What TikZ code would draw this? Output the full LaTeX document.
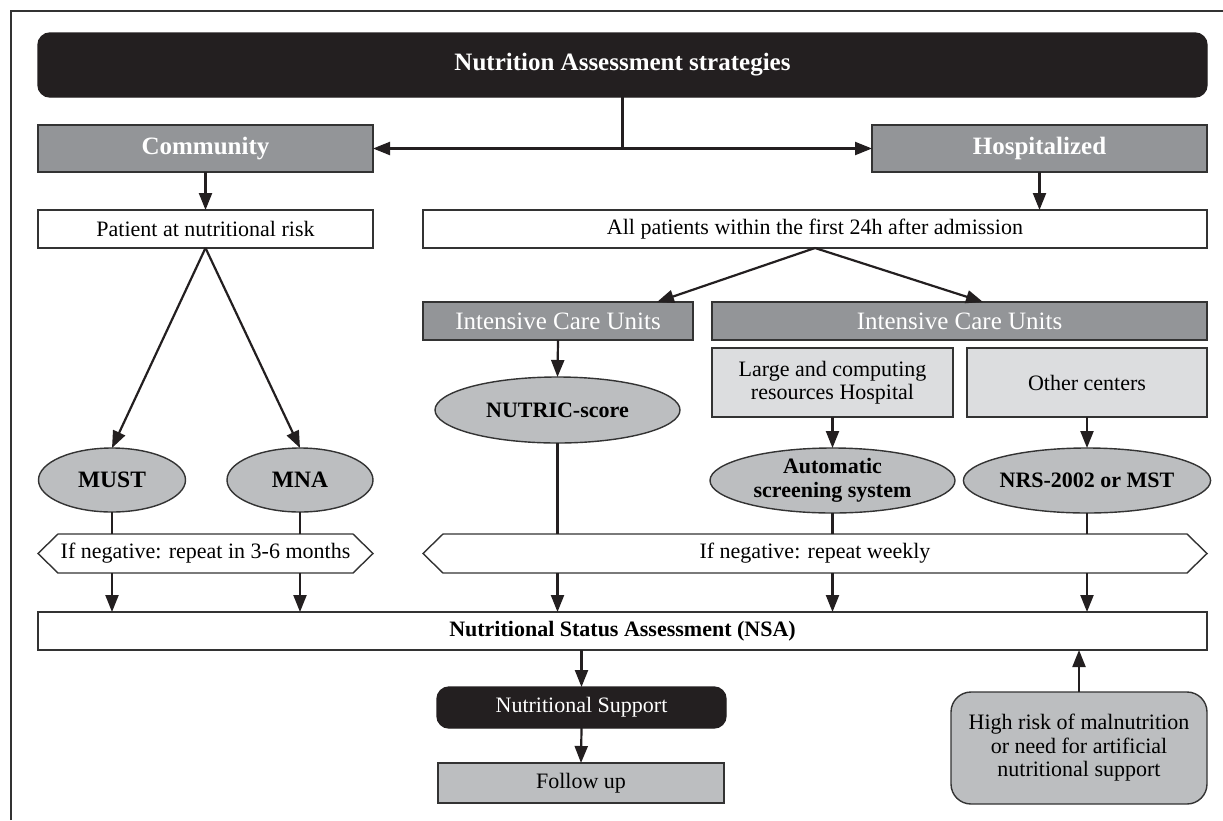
\documentclass[tikz,border=0pt]{standalone}
\usepackage{fontspec}
\setmainfont{Liberation Serif}
\usetikzlibrary{shapes.geometric,arrows.meta,calc}
\definecolor{cdark}{HTML}{231F20}
\definecolor{cmid}{HTML}{939598}
\definecolor{clight}{HTML}{DCDDDF}
\definecolor{cell}{HTML}{BCBEC0}
\definecolor{cline}{HTML}{333333}
\newcommand{\bodyfont}{\fontsize{22}{23.5}\selectfont}
\newcommand{\headfont}{\fontsize{25}{26}\selectfont}
\tikzset{
  base/.style={inner sep=0pt, outer sep=0pt, align=center, draw=cline, line width=1.4pt},
  darkbox/.style={base, fill=cdark, draw=cdark, text=white, rounded corners=12pt},
  midbox/.style={base, fill=cmid, text=white, font=\headfont},
  whitebox/.style={base, fill=white, font=\bodyfont},
  lightbox/.style={base, fill=clight, font=\bodyfont},
  ellnode/.style={base, ellipse, fill=cell, font=\bodyfont\bfseries},
  hexnode/.style={inner sep=0pt, outer sep=0pt, align=center, font=\bodyfont},
  hexline/.style={draw=cline, line width=1.4pt, fill=white},
  conn/.style={line width=2.2pt, draw=cdark},
  arr/.style={conn, -{Triangle[length=17pt,width=13pt]}}
}
\begin{document}
\begin{tikzpicture}[x=1pt,y=-1pt]
\useasboundingbox (0,0) rectangle (1223,820);
\draw[line width=1.8pt, draw=cline] (11,820) -- (11,11) -- (1223,11);

% top
\node[darkbox, minimum width=1169pt, minimum height=64pt, font=\headfont\bfseries] (title) at (622.5,65) {Nutrition Assessment strategies};
\node[midbox, minimum width=335pt, minimum height=47pt, font=\headfont\bfseries] (comm) at (205.5,148.5) {Community};
\node[midbox, minimum width=335pt, minimum height=47pt, font=\headfont\bfseries] (hosp) at (1039.5,148.5) {Hospitalized};
\coordinate (jc) at (title.south |- comm.east);
\draw[conn] (title.south) -- (jc);
\draw[arr] (jc) -- (comm.east);
\draw[arr] (jc) -- (hosp.west);

\node[whitebox, minimum width=335pt, minimum height=38pt] (pat) at (205.5,229) {Patient at nutritional risk};
\node[whitebox, minimum width=784pt, minimum height=38pt] (allp) at (815,229) {All patients within the first 24h after admission};
\draw[arr] (comm.south) -- (pat.north);
\draw[arr] (hosp.south) -- (hosp.south |- allp.north);

% community branch
\node[ellnode, minimum width=147pt, minimum height=64pt, font=\fontsize{23.5}{24}\selectfont\bfseries] (must) at (112,480) {MUST};
\node[ellnode, minimum width=146pt, minimum height=64pt, font=\fontsize{23.5}{24}\selectfont\bfseries] (mna) at (300,480) {MNA};
\draw[arr] (pat.south) -- (must.north);
\draw[arr] (pat.south) -- (mna.north);

% hospital branch
\node[midbox, minimum width=270pt, minimum height=38pt] (icua) at (558,321) {Intensive Care Units};
\node[midbox, minimum width=495pt, minimum height=38pt] (icub) at (959.5,321) {Intensive Care Units};
\draw[arr] (allp.south) -- ($(icua.north)+(99,0)$);
\draw[arr] (allp.south) -- ($(icub.north)+(23.5,0)$);

\node[lightbox, minimum width=241pt, minimum height=69pt] (large) at (832.5,382.5) {Large and computing\\resources Hospital};
\node[lightbox, minimum width=240pt, minimum height=69pt] (other) at (1087,382.5) {Other centers};

\node[ellnode, minimum width=245pt, minimum height=66pt] (nutric) at (557.5,410) {NUTRIC-score};
\node[ellnode, minimum width=245pt, minimum height=65pt] (auto) at (832.5,480.5) {Automatic\\screening system};
\node[ellnode, minimum width=244pt, minimum height=65pt] (nrs) at (1087,480.5) {NRS-2002 or MST};
\draw[arr] (icua.south) -- (nutric.north);
\draw[arr] (large.south) -- (auto.north);
\draw[arr] (other.south) -- (nrs.north);

% hexagons
\node[hexnode, minimum width=295pt, minimum height=39pt] (hexa) at (205.5,553.5) {};
\draw[hexline] (hexa.north west) -- (hexa.north east) -- ([xshift=20pt]hexa.east) -- (hexa.south east) -- (hexa.south west) -- ([xshift=-20pt]hexa.west) -- cycle;
\node[hexnode] at (hexa.center) {If negative: repeat in 3-6 months};
\node[hexnode, minimum width=744pt, minimum height=39pt] (hexb) at (815,553.5) {};
\draw[hexline] (hexb.north west) -- (hexb.north east) -- ([xshift=20pt]hexb.east) -- (hexb.south east) -- (hexb.south west) -- ([xshift=-20pt]hexb.west) -- cycle;
\node[hexnode] at (hexb.center) {If negative: repeat weekly};

\node[whitebox, minimum width=1169pt, minimum height=38pt, font=\bodyfont\bfseries] (nsa) at (622.5,631) {Nutritional Status Assessment (NSA)};

\foreach \e/\h in {must/hexa, mna/hexa, nutric/hexb, auto/hexb, nrs/hexb}{
  \draw[conn] (\e.south) -- (\e.south |- \h.north);
  \draw[arr] (\e.south |- \h.south) -- (\e.south |- nsa.north);
}

% bottom
\node[darkbox, minimum width=289pt, minimum height=41pt, font=\bodyfont] (nsup) at (581.5,707.5) {Nutritional Support};
\node[base, fill=cell, minimum width=286pt, minimum height=40pt, font=\bodyfont] (follow) at (581,783) {Follow up};
\node[base, fill=cell, rounded corners=20pt, minimum width=256pt, minimum height=112pt, font=\bodyfont] (high) at (1079,748) {High risk of malnutrition\\or need for artificial\\nutritional support};
\draw[arr] (nsup.north |- nsa.south) -- (nsup.north);
\draw[arr] (nsup.south) -- (follow.north);
\draw[arr] (high.north) -- (high.north |- nsa.south);
\end{tikzpicture}
\end{document}
